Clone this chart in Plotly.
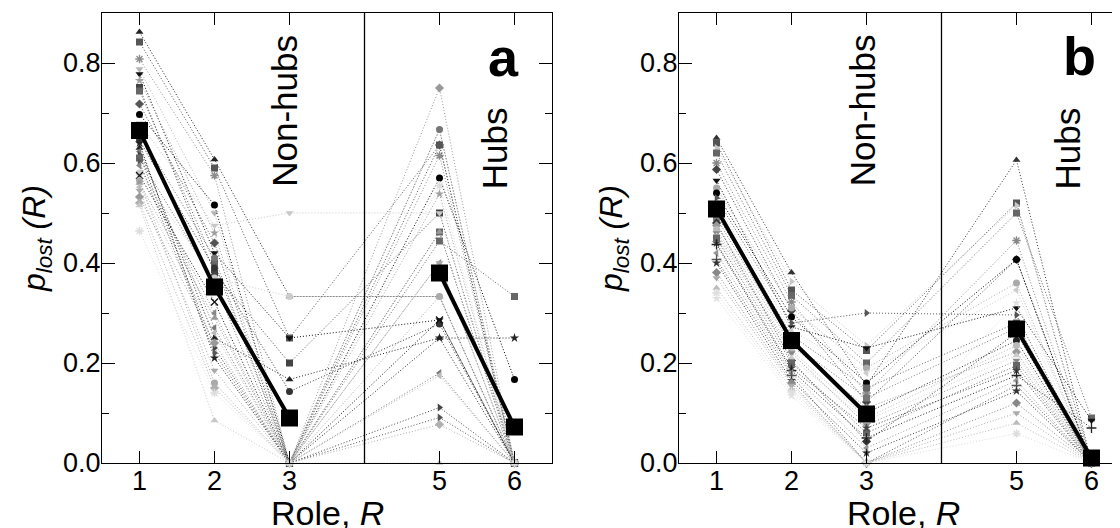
import plotly.graph_objects as go

roles = [1, 2, 3, 5, 6]
role_ticks = [1, 2, 3, 5, 6]
y_ticks = [0.0, 0.2, 0.4, 0.6, 0.8]
y_tick_labels = ["0.0", "0.2", "0.4", "0.6", "0.8"]

# ---------------- panel a : individual series (value at roles 1,2,3,5,6) -------------
a_role1 = [0.862, 0.842, 0.808, 0.788, 0.778, 0.765, 0.751, 0.744, 0.718, 0.697,
           0.680, 0.660, 0.645, 0.640, 0.630, 0.623, 0.616, 0.610, 0.602, 0.595,
           0.580, 0.575, 0.565, 0.560, 0.552, 0.545, 0.532, 0.520, 0.515, 0.464]
a_role2 = [0.607, 0.590, 0.575, 0.500, 0.420, 0.460, 0.380, 0.400, 0.440, 0.516,
           0.475, 0.410, 0.390, 0.210, 0.250, 0.270, 0.230, 0.360, 0.220, 0.300,
           0.370, 0.322, 0.160, 0.290, 0.260, 0.185, 0.240, 0.150, 0.085, 0.140]
a_role3 = [0.333, 0.250, 0.000, 0.000, 0.250, 0.000, 0.200, 0.000, 0.000, 0.000,
           0.500, 0.000, 0.143, 0.000, 0.167, 0.000, 0.000, 0.000, 0.000, 0.000,
           0.333, 0.000, 0.000, 0.000, 0.000, 0.000, 0.000, 0.000, 0.000, 0.000]
a_role5 = [0.333, 0.636, 0.615, 0.667, 0.286, 0.538, 0.500, 0.462, 0.636, 0.570,
           0.500, 0.667, 0.278, 0.250, 0.250, 0.180, 0.111, 0.444, 0.091, 0.400,
           0.333, 0.286, 0.333, 0.462, 0.175, 0.400, 0.750, 0.077, 0.000, 0.555]
a_role6 = [0.000, 0.000, 0.000, 0.000, 0.000, 0.000, 0.000, 0.000, 0.000, 0.167,
           0.000, 0.000, 0.000, 0.250, 0.000, 0.000, 0.000, 0.333, 0.000, 0.000,
           0.000, 0.000, 0.000, 0.000, 0.000, 0.000, 0.000, 0.000, 0.000, 0.000]
a_gray = ["#222222", "#555555", "#8c8c8c", "#b4b4b4", "#111111", "#a0a0a0", "#444444",
          "#666666", "#555555", "#000000", "#c8c8c8", "#777777", "#333333", "#222222",
          "#222222", "#777777", "#444444", "#666666", "#555555", "#888888", "#cccccc",
          "#111111", "#aaaaaa", "#999999", "#bbbbbb", "#aaaaaa", "#999999", "#b0b0b0",
          "#c8c8c8", "#dddddd"]
a_symbol = ["triangle-up", "square", "asterisk-open", "triangle-down", "triangle-down",
            "star", "square", "square", "diamond", "circle", "triangle-down", "circle",
            "circle-cross", "star", "triangle-up", "triangle-left", "triangle-right",
            "square", "triangle-right", "triangle-left", "circle", "x-thin-open",
            "circle", "triangle-up", "triangle-left", "triangle-down", "diamond",
            "diamond", "triangle-up", "asterisk-open"]
a_mean = [0.665, 0.352, 0.090, 0.380, 0.072]

# ---------------- panel b -------------------------------------------------------------
b_role1 = [0.650, 0.640, 0.630, 0.620, 0.600, 0.587, 0.565, 0.550, 0.540, 0.530,
           0.520, 0.510, 0.498, 0.490, 0.480, 0.475, 0.467, 0.460, 0.454, 0.450,
           0.440, 0.437, 0.420, 0.407, 0.400, 0.381, 0.370, 0.350, 0.340, 0.329]
b_role2 = [0.381, 0.346, 0.363, 0.335, 0.322, 0.305, 0.272, 0.310, 0.292, 0.280,
           0.265, 0.255, 0.250, 0.240, 0.205, 0.235, 0.225, 0.220, 0.210, 0.200,
           0.190, 0.185, 0.180, 0.175, 0.165, 0.160, 0.155, 0.148, 0.142, 0.135]
b_role3 = [0.155, 0.225, 0.235, 0.200, 0.140, 0.122, 0.230, 0.190, 0.160, 0.300,
           0.180, 0.150, 0.100, 0.130, 0.043, 0.110, 0.090, 0.076, 0.085, 0.060,
           0.070, 0.050, 0.030, 0.000, 0.020, 0.000, 0.000, 0.000, 0.000, 0.000]
b_role5 = [0.606, 0.520, 0.515, 0.500, 0.445, 0.407, 0.310, 0.360, 0.407, 0.296,
           0.346, 0.280, 0.245, 0.270, 0.260, 0.222, 0.235, 0.205, 0.215, 0.195,
           0.185, 0.175, 0.165, 0.155, 0.144, 0.120, 0.100, 0.080, 0.059, 0.320]
b_role6 = [0.000, 0.000, 0.000, 0.090, 0.000, 0.000, 0.085, 0.000, 0.000, 0.000,
           0.000, 0.000, 0.000, 0.000, 0.000, 0.000, 0.000, 0.000, 0.000, 0.000,
           0.000, 0.070, 0.000, 0.000, 0.000, 0.000, 0.000, 0.000, 0.000, 0.000]
b_gray = ["#333333", "#555555", "#c8c8c8", "#666666", "#888888", "#444444", "#111111",
          "#aaaaaa", "#000000", "#555555", "#cccccc", "#666666", "#222222", "#777777",
          "#333333", "#999999", "#bbbbbb", "#888888", "#cccccc", "#666666", "#444444",
          "#222222", "#999999", "#555555", "#333333", "#888888", "#aaaaaa", "#bbbbbb",
          "#dddddd", "#e0e0e0"]
b_symbol = ["triangle-up", "square", "triangle-right", "square", "asterisk-open",
            "diamond", "triangle-down", "circle", "circle", "triangle-right",
            "triangle-left", "square", "circle", "square", "diamond", "diamond",
            "circle", "triangle-down", "triangle-up", "square", "star", "cross-thin-open",
            "triangle-left", "cross-thin-open", "star", "diamond", "triangle-down",
            "triangle-up", "asterisk-open", "star"]
b_mean = [0.508, 0.245, 0.098, 0.268, 0.010]

FONT = "Liberation Sans, Arial, Helvetica, sans-serif"
fig = go.Figure()


def add_panel(xa, ya, r1, r2, r3, r5, r6, grays, syms, mean):
    for i in range(len(r1)):
        thin = syms[i].endswith("-open")
        fig.add_trace(go.Scatter(
            x=roles, y=[r1[i], r2[i], r3[i], r5[i], r6[i]], xaxis=xa, yaxis=ya,
            mode="lines+markers", showlegend=False, cliponaxis=False,
            line=dict(color=grays[i], width=1, dash="1px,2px"),
            marker=dict(symbol=syms[i], size=7, color=grays[i],
                        line=dict(width=1.3 if thin else 0, color=grays[i]))))
    # mean: non-hub roles (1-3) and hub roles (5-6) drawn as separate segments
    fig.add_trace(go.Scatter(
        x=roles[:3] + [None] + roles[3:], y=mean[:3] + [None] + mean[3:],
        xaxis=xa, yaxis=ya, mode="lines+markers", showlegend=False, connectgaps=False,
        cliponaxis=False, line=dict(color="black", width=4),
        marker=dict(symbol="square", size=17, color="black")))


add_panel("x", "y", a_role1, a_role2, a_role3, a_role5, a_role6, a_gray, a_symbol, a_mean)
add_panel("x2", "y2", b_role1, b_role2, b_role3, b_role5, b_role6, b_gray, b_symbol, b_mean)

xcommon = dict(tickvals=role_ticks, ticks="inside", ticklen=12, tickwidth=1.3,
               tickcolor="black", showline=True, linecolor="black", linewidth=1.3,
               mirror="ticks", showgrid=False, zeroline=False, ticklabelstandoff=-7,
               tickfont=dict(size=27, color="black", family=FONT))
ycommon = dict(range=[0, 0.9], tickvals=y_ticks, ticktext=y_tick_labels, ticks="inside",
               ticklen=13, tickwidth=1.3, tickcolor="black", showline=True,
               linecolor="black", linewidth=1.3, mirror="ticks", showgrid=False,
               zeroline=False, ticklabelstandoff=-5,
               minor=dict(tickvals=[0.1, 0.3, 0.5, 0.7], ticks="inside", ticklen=7,
                          tickwidth=1.3, tickcolor="black", showgrid=False),
               tickfont=dict(size=27, color="black", family=FONT),
               title=dict(text="<i>p</i><sub><i>lost</i></sub> <i>(R)</i>",
                          font=dict(size=32, color="black", family=FONT), standoff=7))

fig.update_layout(
    width=1120, height=528,
    margin=dict(l=94, r=0, t=5, b=73),
    paper_bgcolor="white", plot_bgcolor="white",
    xaxis=dict(domain=[0, 0.4386], range=[0.5, 6.5], anchor="y", **xcommon),
    xaxis2=dict(domain=[0.5624, 1.0], range=[0.5, 6.487], anchor="y2", **xcommon),
    yaxis=dict(anchor="x", **ycommon),
    yaxis2=dict(anchor="x2", **ycommon),
)

for xr, yr in (("x", "y"), ("x2", "y2")):
    fig.add_shape(type="line", xref=xr, yref=yr + " domain", x0=4, x1=4, y0=0, y1=1,
                  line=dict(color="black", width=1.3))

# x-axis titles (placed as annotations below the tick labels)
for xr, yr, xc in (("x", "y", 0.5), ("x2", "y2", 0.5 * 6.0 / 5.987)):
    fig.add_annotation(xref=xr + " domain", yref=yr + " domain", x=xc, y=-0.112,
                       text="Role, <i>R</i>", showarrow=False, xanchor="center",
                       yanchor="middle", font=dict(size=34, color="black", family=FONT))

texts = [
    ("x", "y", 2.93, 0.705, "Non-hubs", -90, 35, False),
    ("x", "y", 5.73, 0.63, "Hubs", -90, 35, False),
    ("x", "y", 5.85, 0.813, "a", 0, 54, True),
    ("x2", "y2", 2.95, 0.705, "Non-hubs", -90, 35, False),
    ("x2", "y2", 5.68, 0.63, "Hubs", -90, 35, False),
    ("x2", "y2", 5.84, 0.815, "b", 0, 54, True),
]
for xr, yr, x, y, t, ang, sz, bold in texts:
    fig.add_annotation(xref=xr, yref=yr, x=x, y=y, text=("<b>%s</b>" % t) if bold else t,
                       textangle=ang, showarrow=False,
                       font=dict(size=sz, color="black", family=FONT))

fig.write_html("out.html")
